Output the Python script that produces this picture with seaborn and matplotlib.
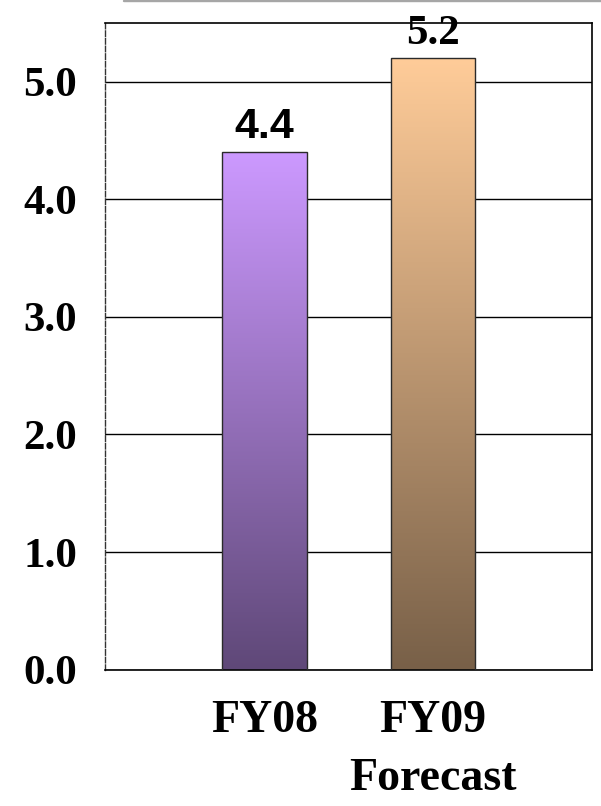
import numpy as np
import pandas as pd
import matplotlib
matplotlib.use("Agg")
import matplotlib.pyplot as plt
from matplotlib.colors import to_rgb
from matplotlib.lines import Line2D
import seaborn as sns

# Chart data
categories = ["FY08", "FY09\nForecast"]
values = [4.4, 5.2]
value_labels = ["4.4", "5.2"]
y_ticks = [0.0, 1.0, 2.0, 3.0, 4.0, 5.0]

# Vertical gradient (top colour, bottom colour) for each bar
gradients = [("#CC99FF", "#5F4878"), ("#FFCC99", "#786048")]

sns.set_theme(style="white")
plt.rcParams["font.family"] = ["Liberation Serif", "DejaVu Serif"]

fig = plt.figure(figsize=(6.01, 8.06), dpi=100)
ax = fig.add_axes([105 / 601, 1 - 669.7 / 806, (592 - 105) / 601, (669.7 - 22.7) / 806])

df = pd.DataFrame({"period": categories, "value": values})
sns.barplot(data=df, x="period", y="value", ax=ax, width=0.5,
            color="white", edgecolor="#2a2a2a", linewidth=1.0, zorder=3)

ax.set_ylim(0, 5.5)
ax.set_xlim(-0.948, 1.947)

# Fill each bar with a top-to-bottom gradient clipped to the bar outline
for patch, (top, bottom) in zip(ax.patches, gradients):
    x0, y0 = patch.get_x(), patch.get_y()
    w, h = patch.get_width(), patch.get_height()
    t = np.linspace(0, 1, 256)[:, None, None]
    c_top, c_bot = np.array(to_rgb(top)), np.array(to_rgb(bottom))
    img = c_bot * (1 - t) + c_top * t
    im = ax.imshow(img, extent=[x0, x0 + w, y0, y0 + h], origin="lower",
                   aspect="auto", interpolation="bilinear", zorder=2)
    im.set_clip_path(patch)
    patch.set_facecolor("none")

ax.set_xlim(-0.948, 1.947)
ax.set_ylim(0, 5.5)

# Value labels above bars
label_fonts = [["Liberation Sans", "DejaVu Sans"], ["Liberation Serif", "DejaVu Serif"]]
for i, (v, lab) in enumerate(zip(values, value_labels)):
    ax.text(i, v + 0.12, lab, ha="center", va="baseline", fontsize=31,
            fontweight="bold", family=label_fonts[i], color="black", zorder=5)

ax.set_yticks(y_ticks)
ax.set_yticklabels([f"{t:.1f}" for t in y_ticks])
ax.yaxis.grid(True, color="black", linewidth=1.0, zorder=0)
ax.set_axisbelow(True)
ax.tick_params(axis="y", length=0, pad=20, labelsize=31)
ax.tick_params(axis="x", length=0, pad=22, labelsize=33)
for lbl in ax.get_yticklabels() + ax.get_xticklabels():
    lbl.set_fontweight("bold")
    lbl.set_color("black")
for lbl in ax.get_xticklabels():
    lbl.set_linespacing(1.5)

ax.set_xlabel("")
ax.set_ylabel("")

for side in ["top", "right", "bottom"]:
    ax.spines[side].set_visible(True)
    ax.spines[side].set_color("black")
    ax.spines[side].set_linewidth(1.2)
ax.spines["left"].set_color("#333333")
ax.spines["left"].set_linewidth(1.0)
ax.spines["left"].set_linestyle((0, (4, 1.5)))

# Thin grey rule across the top of the figure
fig.add_artist(Line2D([124 / 601, 1.0], [1 - 1.2 / 806] * 2, color="#a6a6a6",
                      linewidth=2.4 * 72 / 100, transform=fig.transFigure))

fig.savefig("out.png", dpi=100, facecolor="white")
